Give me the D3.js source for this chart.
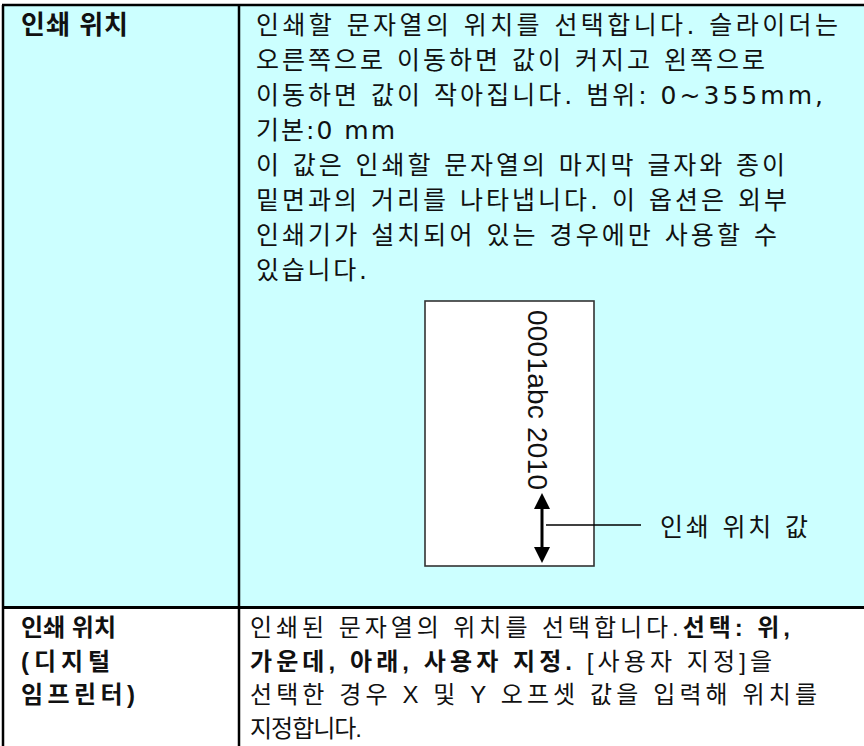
<!DOCTYPE html>
<html><head><meta charset="utf-8">
<script src="https://cdn.jsdelivr.net/npm/d3@7"></script>
<style>html,body{margin:0;padding:0;background:#fff;overflow:hidden}</style>
</head><body><div id="chart"></div>
<script>
// ---- content ----
const row1Label = ["인쇄 위치"];
const row1Lines = [
  "인쇄할 문자열의 위치를 선택합니다. 슬라이더는",
  "오른쪽으로 이동하면 값이 커지고 왼쪽으로",
  "이동하면 값이 작아집니다. 범위: 0~355mm,",
  "기본:0 mm",
  "이 값은 인쇄할 문자열의 마지막 글자와 종이",
  "밑면과의 거리를 나타냅니다. 이 옵션은 외부",
  "인쇄기가 설치되어 있는 경우에만 사용할 수",
  "있습니다."
];
const sampleString = ["0001abc 2010"];
const calloutLabel = ["인쇄 위치 값"];
const row2Label = ["인쇄 위치", "(디지털", "임프린터)"];
const row2Lines = [
  "인쇄된 문자열의 위치를 선택합니다.**선택: 위,**",
  "**가운데, 아래, 사용자 지정.** [사용자 지정]을",
  "선택한 경우 X 및 Y 오프셋 값을 입력해 위치를",
  "지정합니다."
];

// ---- layout (measured from reference) ----
const W = 864, H = 746;
const row1LineEnds = [838, 765, 823, 395, 785, 787, 777, 367];
const row2LineEnds = [790, 772, 817, 362];
const row2LabelEnds = [116, 110, 135];

const svg = d3.select("#chart").append("svg")
  .attr("width", W).attr("height", H)
  .style("display", "block");

const xL = 3, xDiv = 239, yTop = 5, yMid = 607.5;
const font1 = "'DejaVu Sans', 'Noto Sans CJK KR', sans-serif";
const font2 = "'Liberation Sans', 'Noto Sans CJK KR', sans-serif";
const ink = "#111";

// backgrounds
svg.append("rect").attr("x", xL).attr("y", yTop).attr("width", W - xL).attr("height", yMid - yTop)
  .attr("fill", "#ccffff");

function fit(sel, target, x0) {
  const node = sel.node();
  const txt = node.textContent;
  const nat = node.getComputedTextLength();
  const n = Array.from(txt).length;
  if (n > 1) {
    const ls = (target - x0 - nat) / (n - 1);
    sel.style("letter-spacing", Math.max(ls, -1.5) + "px");
  }
}

function addLine(g, str, x, y, size, end, baseBold, fam) {
  const t = g.append("text").attr("x", x).attr("y", y)
    .attr("font-family", fam).attr("font-size", size)
    .attr("fill", ink).attr("font-weight", baseBold ? 700 : 400);
  const parts = str.split("**");
  parts.forEach((p, i) => {
    if (!p) return;
    t.append("tspan").text(p).attr("font-weight", (i % 2 === 1 || baseBold) ? 700 : 400);
  });
  if (end) fit(t, end, x);
  return t;
}

const g = svg.append("g");
// row 1 label
row1Label.forEach((s, i) => addLine(g, s, 21, 34 + i * 35, 26, 128, true, font2));
// row 1 text
const y1 = d3.scalePoint().domain(d3.range(row1Lines.length)).range([34, 34 + 35 * (row1Lines.length - 1)]);
row1Lines.forEach((s, i) => addLine(g, s, 256, y1(i), 25, row1LineEnds[i], false, font1));

// paper figure
svg.append("rect").attr("x", 425).attr("y", 301).attr("width", 169).attr("height", 265)
  .attr("fill", "#fff").attr("stroke", "#333").attr("stroke-width", 1.6);
const sampleT = svg.append("text").text(sampleString[0])
  .attr("transform", "translate(528,310) rotate(90)")
  .attr("font-family", "'Liberation Sans', Arial, sans-serif").attr("font-size", 28).attr("fill", ink);
sampleT.style("letter-spacing", ((180 - sampleT.node().getComputedTextLength()) / 11) + "px");

// double arrow
svg.append("line").attr("x1", 542).attr("x2", 542).attr("y1", 505).attr("y2", 551)
  .attr("stroke", "#000").attr("stroke-width", 3);
svg.append("path").attr("d", "M542,493 L534,509 L550,509 Z").attr("fill", "#000");
svg.append("path").attr("d", "M542,563 L534,547 L550,547 Z").attr("fill", "#000");
svg.append("line").attr("x1", 546).attr("x2", 641).attr("y1", 525).attr("y2", 525)
  .attr("stroke", "#000").attr("stroke-width", 1.3);
addLine(svg, calloutLabel[0], 660, 536, 25, 808, false, font1);

// row 2
const y2 = d3.scalePoint().domain(d3.range(row2Lines.length)).range([636, 636 + 33.5 * (row2Lines.length - 1)]);
row2Label.forEach((s, i) => addLine(g, s, 21, y2(i), 24, row2LabelEnds[i], true, font2));
row2Lines.forEach((s, i) => addLine(g, s, 250, y2(i), 24, row2LineEnds[i], false, font2));

// borders
const b = svg.append("g").attr("stroke", "#000");
b.append("line").attr("x1", xL - 1).attr("x2", W).attr("y1", yTop).attr("y2", yTop).attr("stroke-width", 2.5);
b.append("line").attr("x1", xL).attr("x2", xL).attr("y1", yTop).attr("y2", H).attr("stroke-width", 2.5);
b.append("line").attr("x1", xDiv).attr("x2", xDiv).attr("y1", yTop).attr("y2", H).attr("stroke-width", 2.5);
b.append("line").attr("x1", xL).attr("x2", W).attr("y1", yMid).attr("y2", yMid).attr("stroke-width", 3);
</script>
</body></html>
